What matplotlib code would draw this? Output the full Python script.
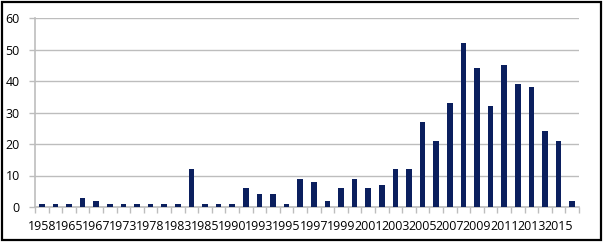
import numpy as np
import matplotlib.pyplot as plt
from matplotlib.patches import Rectangle

# Years (only every other one is labelled on the axis)
years = [1958, 1962, 1965, 1966, 1967, 1970, 1973, 1976, 1978, 1980,
         1983, 1984, 1985, 1988, 1990, 1992, 1993, 1994, 1995, 1996,
         1997, 1998, 1999, 2000, 2001, 2002, 2003, 2004, 2005, 2006,
         2007, 2008, 2009, 2010, 2011, 2012, 2013, 2014, 2015, 2016]
counts = [1, 1, 1, 3, 2, 1, 1, 1, 1, 1,
          1, 12, 1, 1, 1, 6, 4, 4, 1, 9,
          8, 2, 6, 9, 6, 7, 12, 12, 27, 21,
          33, 52, 44, 32, 45, 39, 38, 24, 21, 2]
y_ticks = [0, 10, 20, 30, 40, 50, 60]

W, H = 603, 242
fig = plt.figure(figsize=(W / 100, H / 100), dpi=100)
ax = fig.add_axes([35 / W, (H - 207) / H, (579 - 35) / W, (207 - 18) / H])

x = np.arange(len(years))
ax.bar(x, counts, width=0.42, color='#0b1f5e', zorder=3)

ax.set_xlim(-0.5, len(years) - 0.5)
ax.set_ylim(0, 60)
ax.set_yticks(y_ticks)
ax.yaxis.grid(True, color='#bdbdbd', linewidth=1, zorder=0)

# labels on every second category, tick marks between categories
ax.set_xticks(x[::2])
ax.set_xticklabels([str(y) for y in years[::2]])
ax.set_xticks(np.arange(-0.5, len(years)), minor=True)
ax.tick_params(axis='x', which='major', length=0, pad=9)
ax.tick_params(axis='x', which='minor', length=4, color='#bdbdbd', width=1)
ax.tick_params(axis='y', length=4, color='#bdbdbd', width=1, pad=7)
ax.tick_params(labelsize=8.9, labelcolor='#000000')
for lab in ax.get_xticklabels() + ax.get_yticklabels():
    lab.set_fontfamily('Open Sans')

for side in ['top', 'right']:
    ax.spines[side].set_visible(False)
for side in ['left', 'bottom']:
    ax.spines[side].set_color('#bdbdbd')
    ax.spines[side].set_linewidth(1.2)

# black frame around whole chart
fig.patches.append(Rectangle((1.5 / W, 2 / H), (W - 3.5) / W, (H - 4) / H,
                             transform=fig.transFigure, fill=False,
                             edgecolor='black', linewidth=1.6))

fig.savefig('out.png', dpi=100)
